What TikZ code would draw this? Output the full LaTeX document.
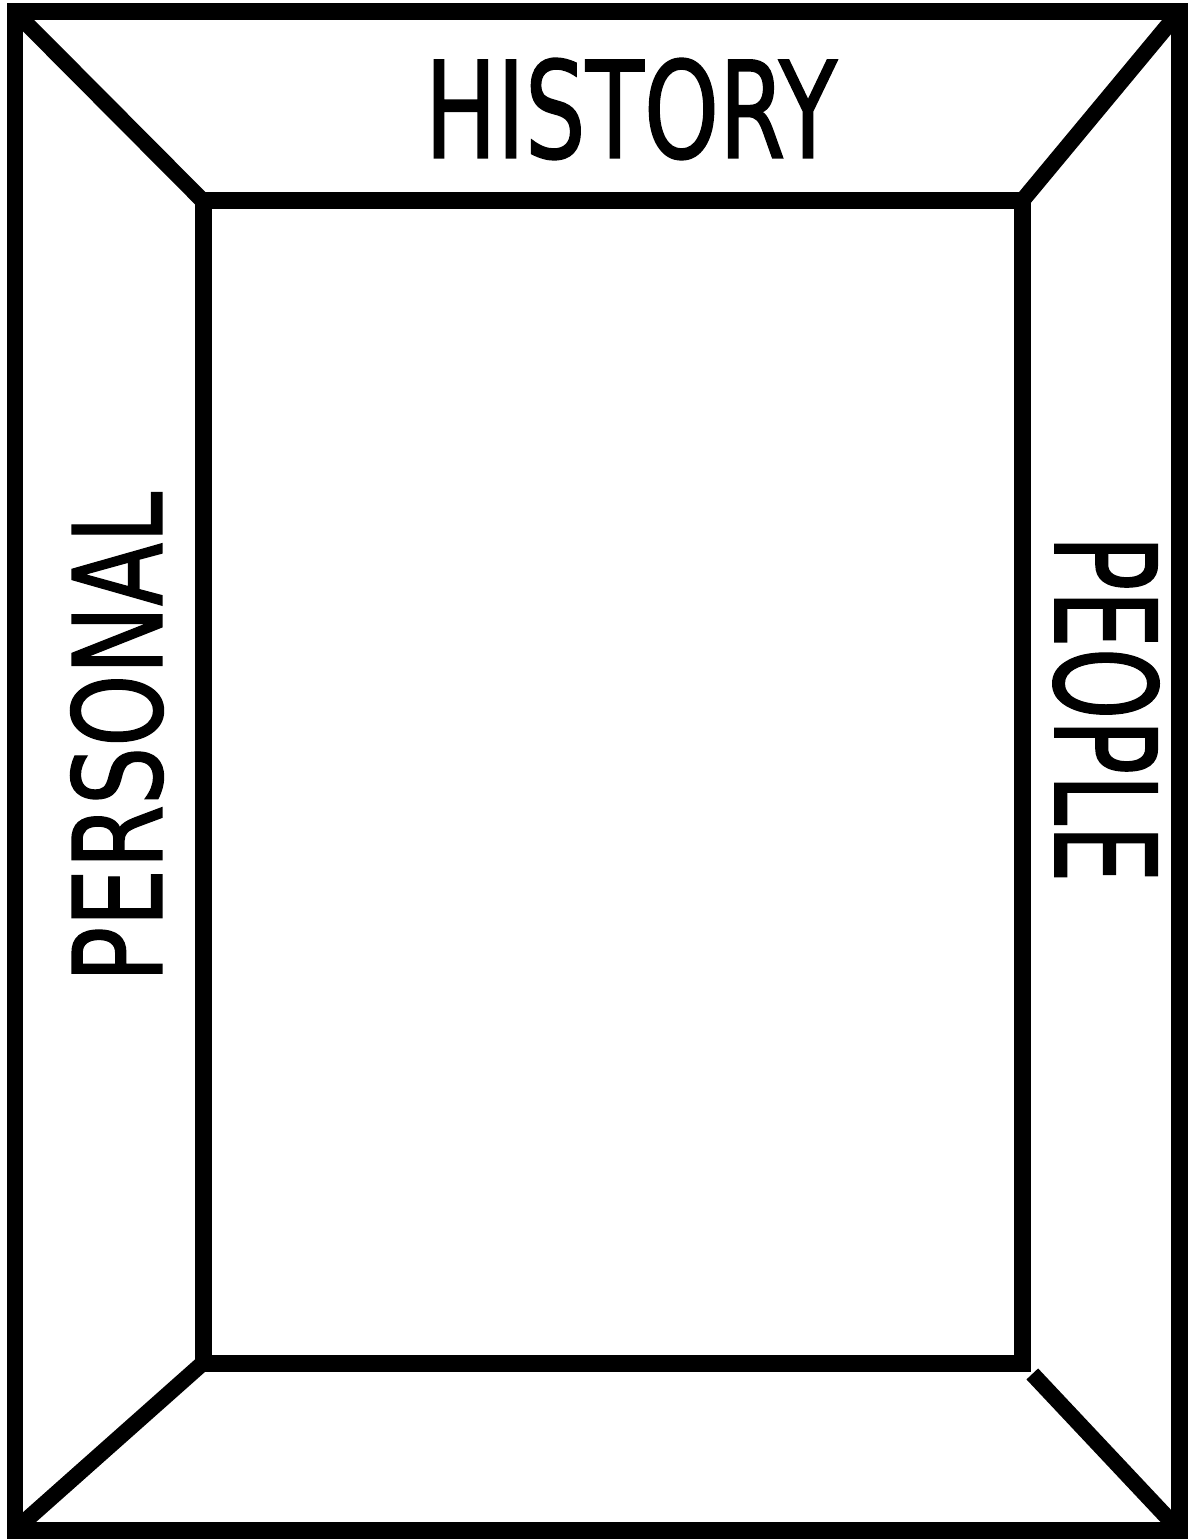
\documentclass[tikz,border=0pt]{standalone}
\usepackage{fontspec}
\usepackage{graphicx}
\newfontfamily\wordfont[FakeBold=1.2]{DejaVu Sans Condensed}
\begin{document}
\begin{tikzpicture}[x=0.02cm, y=-0.02cm,
  frame/.style={draw=black, line width=0.34cm, line join=miter},
  edge/.style={draw=black, line width=0.32cm},
  word/.style={inner sep=0pt, font=\wordfont}]
  \useasboundingbox (0,0) rectangle (1200,1540);
  % corners of the outer and inner frame
  \coordinate (otl) at (15,12);   \coordinate (otr) at (1179,12);
  \coordinate (obl) at (15,1530); \coordinate (obr) at (1179,1530);
  \coordinate (itl) at (203,201);  \coordinate (itr) at (1022,201);
  \coordinate (ibl) at (203,1363); \coordinate (ibr) at (1022,1363);
  \draw[frame] (otl) rectangle (obr);
  \draw[frame] (itl) rectangle (ibr);
  % diagonals
  \draw[edge] (otl) -- (itl);
  \draw[edge] (otr) -- (itr);
  \draw[edge] (obl) -- (ibl);
  \draw[edge, shorten <=0.3cm] (ibr) -- (obr);
  % labels
  \node[word] (history) at (631,109) {\fontsize{76.5}{80}\selectfont\scalebox{0.79}[1]{HISTORY}};
  \node[word, rotate=90] (personal) at (117,737) {\fontsize{70}{74}\selectfont\scalebox{0.83}[1]{PERSONAL}};
  \node[word, rotate=-90] (people) at (1106,709) {\fontsize{80}{84}\selectfont\scalebox{0.72}[1]{PEOPLE}};
\end{tikzpicture}
\end{document}
